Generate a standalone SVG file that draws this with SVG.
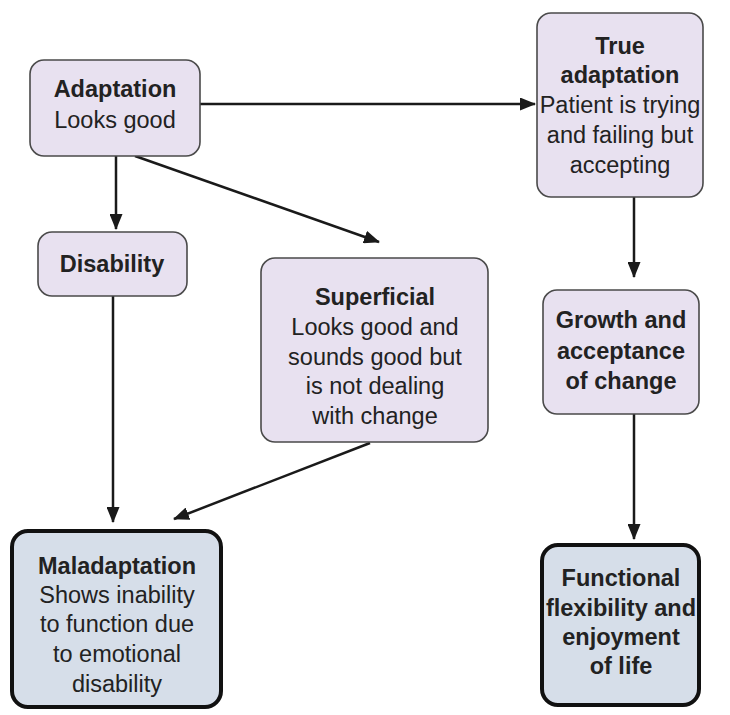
<svg xmlns="http://www.w3.org/2000/svg" width="730" height="715" viewBox="0 0 730 715">
<defs>
<marker id="ah" viewBox="0 0 16 13" refX="15" refY="6.5" markerWidth="16" markerHeight="13" markerUnits="userSpaceOnUse" orient="auto">
<path d="M0,0 L16,6.5 L0,13 Z" fill="#1a1a1a"/>
</marker>
<style>
.lav{fill:#e8e1f0;stroke:#4a4a4a;stroke-width:1.6}
.blu{fill:#d6dee9;stroke:#111;stroke-width:4}
text{font-family:"Liberation Sans",Arial,sans-serif;font-size:23.5px;fill:#222;text-anchor:middle}
.b{font-weight:bold}
.c{stroke:#1a1a1a;stroke-width:2.5;fill:none;marker-end:url(#ah)}
</style>
</defs>
<rect width="730" height="715" fill="#fff"/>
<g id="connectors">
<line class="c" x1="200" y1="104" x2="535" y2="104"/>
<line class="c" x1="116" y1="156" x2="116" y2="229"/>
<line class="c" x1="135" y1="156" x2="379" y2="242"/>
<line class="c" x1="113" y1="296" x2="113" y2="522"/>
<line class="c" x1="370" y1="443" x2="174" y2="519"/>
<line class="c" x1="634" y1="197" x2="634" y2="277"/>
<line class="c" x1="634" y1="414" x2="634" y2="539"/>
</g>
<g id="adaptation">
<rect class="lav" x="30" y="60" width="170" height="96" rx="14"/>
<text class="b" x="115" y="97">Adaptation</text>
<text x="115" y="128">Looks good</text>
</g>
<g id="true-adaptation">
<rect class="lav" x="537" y="13" width="166" height="184" rx="14"/>
<text class="b" x="620" y="54">True</text>
<text class="b" x="620" y="83">adaptation</text>
<text x="620" y="113">Patient is trying</text>
<text x="620" y="143">and failing but</text>
<text x="620" y="173">accepting</text>
</g>
<g id="disability">
<rect class="lav" x="38" y="232" width="149" height="64" rx="14"/>
<text class="b" x="112" y="272">Disability</text>
</g>
<g id="superficial">
<rect class="lav" x="261" y="258" width="227" height="184" rx="14"/>
<text class="b" x="375" y="305">Superficial</text>
<text x="375" y="335">Looks good and</text>
<text x="375" y="365">sounds good but</text>
<text x="375" y="394">is not dealing</text>
<text x="375" y="424">with change</text>
</g>
<g id="growth">
<rect class="lav" x="543" y="290" width="156" height="124" rx="14"/>
<text class="b" x="621" y="328">Growth and</text>
<text class="b" x="621" y="359">acceptance</text>
<text class="b" x="621" y="389">of change</text>
</g>
<g id="maladaptation">
<rect class="blu" x="12" y="531" width="209" height="176" rx="16"/>
<text class="b" x="117" y="574">Maladaptation</text>
<text x="117" y="603">Shows inability</text>
<text x="117" y="632">to function due</text>
<text x="117" y="662">to emotional</text>
<text x="117" y="692">disability</text>
</g>
<g id="functional">
<rect class="blu" x="542" y="545" width="157" height="160" rx="16"/>
<text class="b" x="621" y="586">Functional</text>
<text class="b" x="621" y="616">flexibility and</text>
<text class="b" x="621" y="645">enjoyment</text>
<text class="b" x="621" y="674">of life</text>
</g>
</svg>
